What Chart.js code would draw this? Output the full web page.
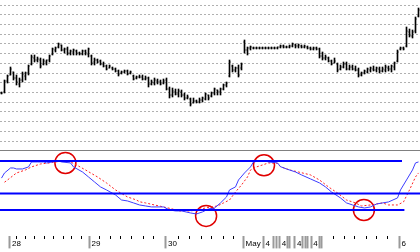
<!DOCTYPE html>
<html>
<head>
<meta charset="UTF-8">
<title>Price and stochastic</title>
<script src="https://cdn.jsdelivr.net/npm/chart.js"></script>
<style>
    body { margin: 0; background: #fff; }
    #wrap { width: 420px; height: 252px; overflow: hidden; }
    #priceBox { height: 150px; }
    #split { height: 0; border-top: 1px solid #808080; }
    #oscBox { height: 101px; }
    canvas { display: block; }
</style>
</head>
<body>
<div id="wrap">
    <div id="priceBox"><canvas id="priceChart" width="420" height="150"></canvas></div>
    <div id="split"></div>
    <div id="oscBox"><canvas id="oscChart" width="420" height="101"></canvas></div>
</div>
<script>
// 15 minute bars, Apr 27 tail .. May 6
const barCount = 140;

const opens = [
    35.7, 35.8, 36.9, 37.5, 37.8, 37.2, 36.6, 37.0, 37.4, 37.7,
    38.6, 39.2, 39.0, 39.0, 38.6, 38.8, 39.0, 39.6, 40.0, 40.3,
    40.5, 40.0, 40.1, 39.7, 39.8, 39.9, 39.7, 39.6, 39.9, 39.6,
    39.4, 38.8, 39.0, 38.9, 38.6, 38.4, 38.2, 38.2, 38.1, 37.9,
    37.7, 37.8, 37.9, 37.7, 37.4, 37.2, 37.3, 37.3, 37.1, 37.2,
    36.6, 36.7, 36.9, 36.8, 36.7, 37.0, 36.1, 35.5, 35.8, 35.6,
    35.8, 35.5, 35.2, 35.1, 34.7, 34.9, 34.8, 35.0, 35.1, 35.5,
    35.4, 35.7, 36.0, 35.8, 36.1, 36.5, 37.4, 38.4, 38.0, 38.2,
    38.2, 40.8, 40.0, 40.2, 40.2, 40.2, 40.2, 40.2, 40.2, 40.2,
    40.2, 40.2, 40.2, 40.3, 40.4, 40.3, 40.3, 40.4, 40.5, 40.4,
    40.4, 40.3, 40.3, 40.2, 40.1, 40.2, 40.1, 39.4, 39.2, 39.2,
    38.9, 38.7, 38.6, 38.1, 38.3, 38.6, 38.1, 38.3, 38.1, 38.0,
    37.5, 37.7, 37.8, 38.0, 38.1, 38.0, 38.1, 37.9, 38.0, 38.2,
    38.1, 38.3, 38.9, 40.1, 40.2, 40.4, 41.8, 41.4, 41.9, 43.4
];
const highs = [
    35.8, 37.0, 37.5, 38.3, 37.8, 37.5, 37.2, 37.8, 37.8, 38.5,
    39.5, 39.5, 39.3, 39.2, 39.1, 39.0, 39.5, 40.2, 40.3, 40.7,
    40.5, 40.2, 40.3, 40.0, 40.1, 40.0, 39.8, 40.0, 40.0, 40.2,
    39.5, 39.2, 39.1, 39.0, 38.8, 38.5, 38.5, 38.3, 38.2, 38.0,
    37.9, 38.0, 38.0, 37.9, 37.5, 37.4, 37.5, 37.5, 37.4, 37.3,
    37.0, 37.2, 37.1, 37.0, 37.1, 37.2, 36.3, 36.2, 36.1, 36.1,
    36.0, 35.7, 35.5, 35.2, 35.2, 35.0, 35.2, 35.3, 35.7, 35.5,
    35.8, 36.2, 36.0, 36.2, 36.6, 36.8, 39.0, 38.5, 38.3, 38.5,
    38.7, 41.0, 40.3, 40.4, 40.3, 40.3, 40.3, 40.3, 40.3, 40.3,
    40.3, 40.3, 40.3, 40.5, 40.5, 40.4, 40.5, 40.7, 40.6, 40.6,
    40.5, 40.5, 40.4, 40.3, 40.3, 40.3, 40.2, 39.8, 39.5, 39.3,
    39.0, 39.2, 38.7, 38.5, 38.8, 38.8, 38.5, 38.5, 38.4, 38.2,
    37.8, 38.0, 38.2, 38.3, 38.4, 38.3, 38.3, 38.3, 38.5, 38.4,
    38.5, 38.8, 40.0, 40.3, 40.3, 42.3, 42.1, 42.0, 43.3, 44.2
];
const lows = [
    35.6, 35.7, 36.7, 37.5, 37.0, 36.5, 36.3, 36.8, 37.0, 37.5,
    38.5, 38.8, 38.8, 38.2, 38.5, 38.5, 38.8, 39.5, 39.8, 40.2,
    39.9, 39.7, 39.5, 39.5, 39.5, 39.5, 39.5, 39.5, 39.5, 39.3,
    38.5, 38.5, 38.7, 38.5, 38.3, 38.0, 38.2, 38.0, 37.8, 37.4,
    37.6, 37.7, 37.5, 37.6, 37.0, 37.1, 37.2, 37.0, 37.0, 36.3,
    36.5, 36.5, 36.6, 36.5, 36.6, 36.0, 35.2, 35.3, 35.5, 35.3,
    35.3, 35.0, 35.1, 34.4, 34.7, 34.7, 34.7, 34.8, 35.0, 35.0,
    35.3, 35.5, 35.5, 35.5, 36.0, 36.3, 37.3, 37.8, 37.8, 37.3,
    38.0, 39.7, 39.5, 40.0, 40.1, 40.1, 40.1, 40.1, 40.1, 40.1,
    40.1, 40.1, 40.1, 40.2, 40.2, 40.2, 40.2, 40.3, 40.2, 40.2,
    40.2, 40.2, 40.1, 40.0, 40.0, 40.0, 39.2, 39.0, 39.0, 38.8,
    38.5, 38.7, 37.8, 38.0, 38.2, 38.0, 38.0, 38.0, 37.9, 37.3,
    37.4, 37.6, 37.7, 37.8, 37.9, 37.8, 37.7, 37.8, 37.8, 37.9,
    37.8, 38.0, 38.8, 40.0, 40.0, 40.3, 41.3, 41.2, 41.7, 43.3
];
const closes = [
    35.7, 36.9, 37.4, 38.1, 37.2, 36.8, 37.0, 37.6, 37.7, 38.4,
    39.3, 39.0, 39.1, 38.4, 38.9, 39.0, 39.4, 40.1, 40.2, 40.6,
    40.0, 40.1, 39.7, 39.9, 40.0, 39.7, 39.6, 39.9, 39.7, 40.1,
    38.7, 39.0, 38.8, 38.6, 38.4, 38.1, 38.4, 38.1, 37.9, 37.6,
    37.8, 37.9, 37.6, 37.8, 37.1, 37.3, 37.3, 37.1, 37.2, 36.6,
    36.8, 37.0, 36.8, 36.6, 36.9, 36.1, 35.5, 35.9, 35.6, 35.9,
    35.5, 35.2, 35.3, 34.6, 34.9, 34.8, 35.0, 35.2, 35.6, 35.2,
    35.7, 36.1, 35.8, 36.1, 36.5, 36.7, 38.8, 38.0, 38.2, 37.5,
    38.6, 40.0, 40.2, 40.3, 40.2, 40.2, 40.2, 40.2, 40.2, 40.2,
    40.2, 40.2, 40.3, 40.4, 40.3, 40.3, 40.4, 40.6, 40.4, 40.5,
    40.3, 40.4, 40.2, 40.1, 40.2, 40.1, 39.4, 39.2, 39.3, 38.9,
    38.6, 38.9, 38.0, 38.3, 38.6, 38.1, 38.3, 38.1, 38.0, 37.5,
    37.7, 37.9, 38.1, 38.2, 38.0, 38.2, 37.9, 38.1, 38.3, 38.1,
    38.4, 38.7, 39.8, 40.2, 40.1, 41.9, 41.5, 41.8, 43.1, 44.0
];

// dashed price grid
const gridPrices = [44.47, 43.5, 42.53, 41.56, 40.6, 39.63, 38.66, 37.69, 36.72,
    35.75, 34.78, 33.81, 32.84, 31.87, 30.9];

// stochastic %K (blue) and %D (red), read at bar positions
const kBars = [0, 1, 3, 4, 5, 7, 9, 10, 12, 14, 15, 17, 19, 20, 23, 24, 27, 29, 31, 33,
    35, 38, 40, 42, 44, 46, 48, 50, 53, 54, 56, 58, 60, 63, 65, 67, 69, 71, 73, 75,
    76, 78, 79, 81, 83, 84, 86, 88, 89, 92, 93, 95, 98, 100, 103, 106, 108, 110, 113, 115,
    117, 119, 121, 123, 125, 127, 129, 132, 133, 135, 137, 138, 139];
const kValues = [59, 65.3, 71.4, 71.4, 70.2, 70.2, 72.7, 78.8, 78.8, 78.8, 77.6, 78.8, 80, 78.8, 77.6, 72.7, 66.5, 60.4, 54.3, 48.2,
    44.5, 38.4, 32.2, 31.0, 28.6, 26.1, 24.9, 23.7, 23.7, 23.7, 20, 18.8, 18.8, 16.3, 15.1, 17.6, 21.2, 22.4, 28.6, 35.9,
    44.5, 48.2, 56.7, 65.3, 72.7, 78.8, 80, 80, 78.8, 77.6, 73, 70.2, 66.5, 62.9, 58.0, 53.1, 48.2, 42.0, 34.7, 28.6,
    26.1, 23.7, 22.4, 23.7, 27.3, 28.6, 29.8, 34.7, 44.5, 56.7, 69.0, 77.6, 78.8];
const dBars = [1, 2, 5, 8, 10, 13, 16, 18, 21, 23, 25, 28, 32, 35, 38, 42, 45, 46, 48, 51,
    54, 57, 59, 63, 65, 68, 70, 72, 74, 76, 78, 80, 82, 83, 85, 87, 89, 92, 93, 96,
    99, 103, 106, 109, 112, 115, 118, 120, 123, 125, 127, 129, 132, 134, 136, 138, 139];
const dValues = [54, 56.7, 65.3, 69.0, 72.7, 76.3, 77.6, 78.8, 80, 78.8, 75.1, 69.0, 60.4, 53.1, 44.5, 35.9, 32.2, 30, 28.6, 26.1,
    23.7, 21.2, 18.8, 18.8, 20, 22.4, 23.7, 24.9, 28.6, 32.2, 42.0, 50.6, 60.4, 69.0, 72.7, 75.1, 77.6, 77, 73, 69.0,
    66.5, 62.9, 56.7, 48.2, 40.8, 32.2, 28.6, 24.9, 26.1, 27.3, 28.6, 26.1, 26.1, 29.8, 44.5, 60.4, 65.3];

// horizontal levels and where each one stops
const levels = [80, 40, 20];
const levelEnds = [133.5, 139.5, 134.3];

// crossovers circled in red
const circleBars = [21.3, 68.2, 87.5, 120.8];
const circleValues = [77.6, 12.7, 74.7, 20];

// time axis: 1 = day separator, 0 = small tick
const tickBars = [2.8, 5.1, 8.1, 10.9, 14.2, 17.2, 20.5, 23.4, 26.7,
    29.3, 32.8, 36.2, 39.7, 43.2, 47.3, 50.6,
    54.8, 58.9, 62.8, 66.5, 70.1, 73.9, 77.3,
    80.6, 87.3, 90.6, 91.5, 92.7, 95.3, 95.9, 97.8, 100.4, 101.3, 101.9, 103.2, 105.9, 106.6,
    110.6, 114.2, 117.8, 121.5, 125.1, 128.7, 132.6];
const tickKind = [1, 0, 0, 0, 0, 0, 0, 0, 0,
    1, 0, 0, 0, 0, 0, 0,
    1, 0, 0, 0, 0, 0, 0,
    1, 1, 1, 1, 1, 1, 1, 1, 1, 1, 1, 1, 1, 1,
    0, 0, 0, 0, 0, 0, 1];
const tickText = [' 28', '', '', '', '', '', '', '', '',
    ' 29', '', '', '', '', '', '',
    ' 30', '', '', '', '', '', '',
    ' May', ' 4', '', '', ' 4', '', '', ' 4', '', '', '', ' 4', '', '',
    '', '', '', '', '', '', ' 6'];

const pts = (xs, ys) => xs.map((x, i) => ({ x: x, y: ys[i] }));
const barIdx = opens.map((o, i) => i);

const common = {
    responsive: false,
    animation: false,
    events: [],
    plugins: { legend: { display: false }, tooltip: { enabled: false } }
};

new Chart(document.getElementById('priceChart'), {
    type: 'bar',
    data: {
        datasets: [
            {
                data: barIdx.map(i => ({ x: i, y: [lows[i], highs[i]] })),
                backgroundColor: '#000',
                borderWidth: 0,
                barThickness: 1,
                order: 2
            },
            {
                type: 'line',
                data: pts(barIdx, opens),
                showLine: false,
                pointStyle: 'dash',
                pointRotation: 180,
                pointRadius: 1,
                borderColor: '#000',
                borderWidth: 1,
                order: 1
            },
            {
                type: 'line',
                data: pts(barIdx, closes),
                showLine: false,
                pointStyle: 'dash',
                pointRotation: 0,
                pointRadius: 1,
                borderColor: '#000',
                borderWidth: 1,
                order: 1
            }
        ]
    },
    options: {
        ...common,
        layout: { padding: 0, autoPadding: false },
        scales: {
            x: { type: 'linear', min: -0.5, max: barCount - 0.5, offset: false, display: false },
            y: {
                min: 30,
                max: 45,
                afterBuildTicks: s => { s.ticks = gridPrices.map(v => ({ value: v })); },
                ticks: { display: false },
                grid: { color: '#b0b0b0', drawTicks: false },
                border: { display: false, dash: [2, 2] }
            }
        }
    }
});

const levelSets = levels.map((lv, i) => ({
    data: [{ x: -0.5, y: lv }, { x: levelEnds[i], y: lv }],
    borderColor: '#0000ff',
    borderWidth: 2,
    pointRadius: 0
}));

new Chart(document.getElementById('oscChart'), {
    type: 'line',
    data: {
        datasets: [
            ...levelSets,
            { data: pts(kBars, kValues), borderColor: '#3c3cff', borderWidth: 1, pointRadius: 0 },
            { data: pts(dBars, dValues), borderColor: '#ff2020', borderWidth: 1, borderDash: [2, 2], pointRadius: 0 },
            {
                data: pts(circleBars, circleValues),
                showLine: false,
                pointRadius: 10.5,
                pointBorderWidth: 1.5,
                pointBorderColor: '#e00000',
                pointBackgroundColor: 'rgba(0,0,0,0)'
            }
        ]
    },
    options: {
        ...common,
        layout: { padding: { bottom: 2 }, autoPadding: false },
        scales: {
            x: {
                type: 'linear',
                min: -0.5,
                max: barCount - 0.5,
                offset: false,
                afterBuildTicks: s => { s.ticks = tickBars.map(v => ({ value: v })); },
                ticks: {
                    autoSkip: false,
                    maxRotation: 0,
                    minRotation: 0,
                    align: 'start',
                    padding: -9,
                    color: '#000',
                    font: { family: 'Liberation Sans, Arial, sans-serif', size: 8 },
                    callback: (v, i) => tickText[i]
                },
                // empty title only gives the axis box room, labels are clipped to it
                title: { display: true, text: '', font: { size: 1 }, padding: { top: 0, bottom: 8.8 } },
                grid: {
                    drawOnChartArea: false,
                    offset: false,
                    tickLength: 12,
                    tickColor: c => tickKind[c.index] ? '#9a9a9a' : '#000',
                    tickWidth: c => tickKind[c.index] ? 2 : 1,
                    tickBorderDash: c => tickKind[c.index] ? [] : [3, 40]
                },
                border: { display: false }
            },
            y: { display: false, min: -12.4, max: 92.2 }
        }
    }
});
</script>
</body>
</html>
